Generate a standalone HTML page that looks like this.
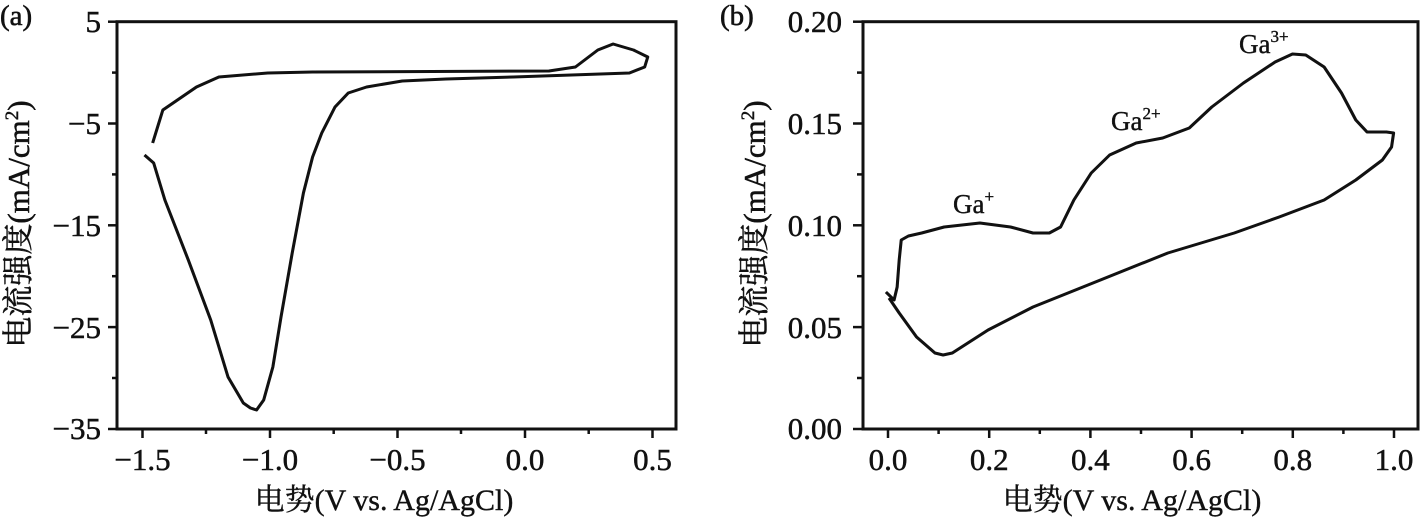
<!DOCTYPE html>
<html><head><meta charset="utf-8"><style>html,body{margin:0;padding:0;background:#fff}svg{display:block}
text{font-family:"Liberation Serif","Times New Roman","Noto Serif CJK SC",serif}</style></head><body>
<svg width="1421" height="519" viewBox="0 0 1421 519" xmlns="http://www.w3.org/2000/svg" fill="#111">
<g stroke="#111" stroke-width="0.6">
<text x="0" y="25" font-size="29">(a)</text>
<text x="720" y="25" font-size="29">(b)</text>
</g>
<!-- Panel a -->
<rect x="117" y="21.7" width="559" height="407.3" fill="none" stroke="#111" stroke-width="3"/>
<g stroke="#111" stroke-width="2.5">
<line x1="108" y1="21.7" x2="117" y2="21.7"/><line x1="108" y1="123.5" x2="117" y2="123.5"/><line x1="108" y1="225.3" x2="117" y2="225.3"/><line x1="108" y1="327.1" x2="117" y2="327.1"/><line x1="108" y1="429" x2="117" y2="429"/>
<line x1="112" y1="72.6" x2="117" y2="72.6"/><line x1="112" y1="174.4" x2="117" y2="174.4"/><line x1="112" y1="276.2" x2="117" y2="276.2"/><line x1="112" y1="378" x2="117" y2="378"/>
<line x1="142.5" y1="429" x2="142.5" y2="438"/><line x1="270" y1="429" x2="270" y2="438"/><line x1="397.5" y1="429" x2="397.5" y2="438"/><line x1="525" y1="429" x2="525" y2="438"/><line x1="652.5" y1="429" x2="652.5" y2="438"/>
<line x1="206" y1="429" x2="206" y2="434"/><line x1="333.7" y1="429" x2="333.7" y2="434"/><line x1="461" y1="429" x2="461" y2="434"/><line x1="588.7" y1="429" x2="588.7" y2="434"/>
</g>
<g font-size="31" stroke="#111" stroke-width="0.5">
<g text-anchor="end">
<text x="101" y="32">5</text><text x="101" y="134">−5</text><text x="101" y="236">−15</text><text x="101" y="338">−25</text><text x="101" y="439">−35</text>
</g>
<g text-anchor="middle">
<text x="142.5" y="470">−1.5</text><text x="270" y="470">−1.0</text><text x="397.5" y="470">−0.5</text><text x="525" y="470">0.0</text><text x="652.5" y="470">0.5</text>
</g>
</g>
<text x="384" y="510" font-size="30" text-anchor="middle" stroke="#111" stroke-width="0.4">电势(V vs. Ag/AgCl)</text>
<text transform="translate(29,224) rotate(-90)" font-size="31" text-anchor="middle" stroke="#111" stroke-width="0.5">电流强度(mA/cm<tspan font-size="19" dy="-11">2</tspan><tspan dy="11">)</tspan></text>
<path transform="matrix(1.0187,0,0,1,-2.19,0)" fill="none" stroke="#111" stroke-width="3" stroke-linejoin="round" d="M152,143 L162,110 L195,87 L217,77 L265,73 L309,72 L541,71 L567,67 L589,50 L604,44 L624,50 L638,57 L635,67 L620,73 L506,77 L440,79 L397,81 L362,87 L344,93 L331,107 L318,133 L309,157 L300,193 L289,253 L278,317 L270,367 L261,400 L254,410 L248,408 L241,403 L226,377 L209,320 L187,260 L164,200 L153,163 L144,155"/>
<!-- Panel b -->
<rect x="863" y="21.7" width="555" height="407.3" fill="none" stroke="#111" stroke-width="3"/>
<g stroke="#111" stroke-width="2.5">
<line x1="853" y1="21.7" x2="863" y2="21.7"/><line x1="853" y1="123.5" x2="863" y2="123.5"/><line x1="853" y1="225.3" x2="863" y2="225.3"/><line x1="853" y1="327.1" x2="863" y2="327.1"/><line x1="853" y1="429" x2="863" y2="429"/>
<line x1="857" y1="72.6" x2="863" y2="72.6"/><line x1="857" y1="174.4" x2="863" y2="174.4"/><line x1="857" y1="276.2" x2="863" y2="276.2"/><line x1="857" y1="378" x2="863" y2="378"/>
<line x1="888" y1="429" x2="888" y2="438"/><line x1="989.2" y1="429" x2="989.2" y2="438"/><line x1="1090.4" y1="429" x2="1090.4" y2="438"/><line x1="1191.6" y1="429" x2="1191.6" y2="438"/><line x1="1292.8" y1="429" x2="1292.8" y2="438"/><line x1="1394" y1="429" x2="1394" y2="438"/>
<line x1="938.6" y1="429" x2="938.6" y2="434"/><line x1="1039.8" y1="429" x2="1039.8" y2="434"/><line x1="1141" y1="429" x2="1141" y2="434"/><line x1="1242.2" y1="429" x2="1242.2" y2="434"/><line x1="1343.4" y1="429" x2="1343.4" y2="434"/>
</g>
<g font-size="31" stroke="#111" stroke-width="0.5">
<g text-anchor="end">
<text x="842" y="32">0.20</text><text x="842" y="134">0.15</text><text x="842" y="236">0.10</text><text x="842" y="338">0.05</text><text x="842" y="439">0.00</text>
</g>
<g text-anchor="middle">
<text x="888" y="470">0.0</text><text x="989.2" y="470">0.2</text><text x="1090.4" y="470">0.4</text><text x="1191.6" y="470">0.6</text><text x="1292.8" y="470">0.8</text><text x="1394" y="470">1.0</text>
</g>
</g>
<text x="1132" y="510" font-size="30" text-anchor="middle" stroke="#111" stroke-width="0.4">电势(V vs. Ag/AgCl)</text>
<text transform="translate(765,224) rotate(-90)" font-size="31" text-anchor="middle" stroke="#111" stroke-width="0.5">电流强度(mA/cm<tspan font-size="19" dy="-11">2</tspan><tspan dy="11">)</tspan></text>
<g font-size="27" stroke="#111" stroke-width="0.4">
<text x="953" y="213">Ga<tspan font-size="17" dy="-11">+</tspan></text>
<text x="1111" y="130">Ga<tspan font-size="17" dy="-11">2+</tspan></text>
<text x="1239" y="53">Ga<tspan font-size="17" dy="-11">3+</tspan></text>
</g>
<path transform="matrix(1.0215,0,0,1,-22.2,0)" fill="none" stroke="#111" stroke-width="3" stroke-linejoin="round" d="M889,292 L897,300 L900,287 L902,260 L904,240 L911,236 L924,233 L946,227 L981,223 L1011,227 L1033,233 L1049,233 L1060,227 L1073,200 L1090,173 L1108,155 L1134,143 L1160,138 L1186,128 L1208,107 L1239,83 L1270,62 L1287,54 L1300,55 L1318,67 L1335,93 L1349,120 L1360,132 L1379,132 L1386,133 L1384,147 L1375,160 L1349,180 L1318,200 L1274,217 L1230,233 L1165,253 L1099,280 L1033,307 L989,330 L954,353 L945,355 L937,353 L919,337 L902,313 L892,298"/>
</svg>
</body></html>
